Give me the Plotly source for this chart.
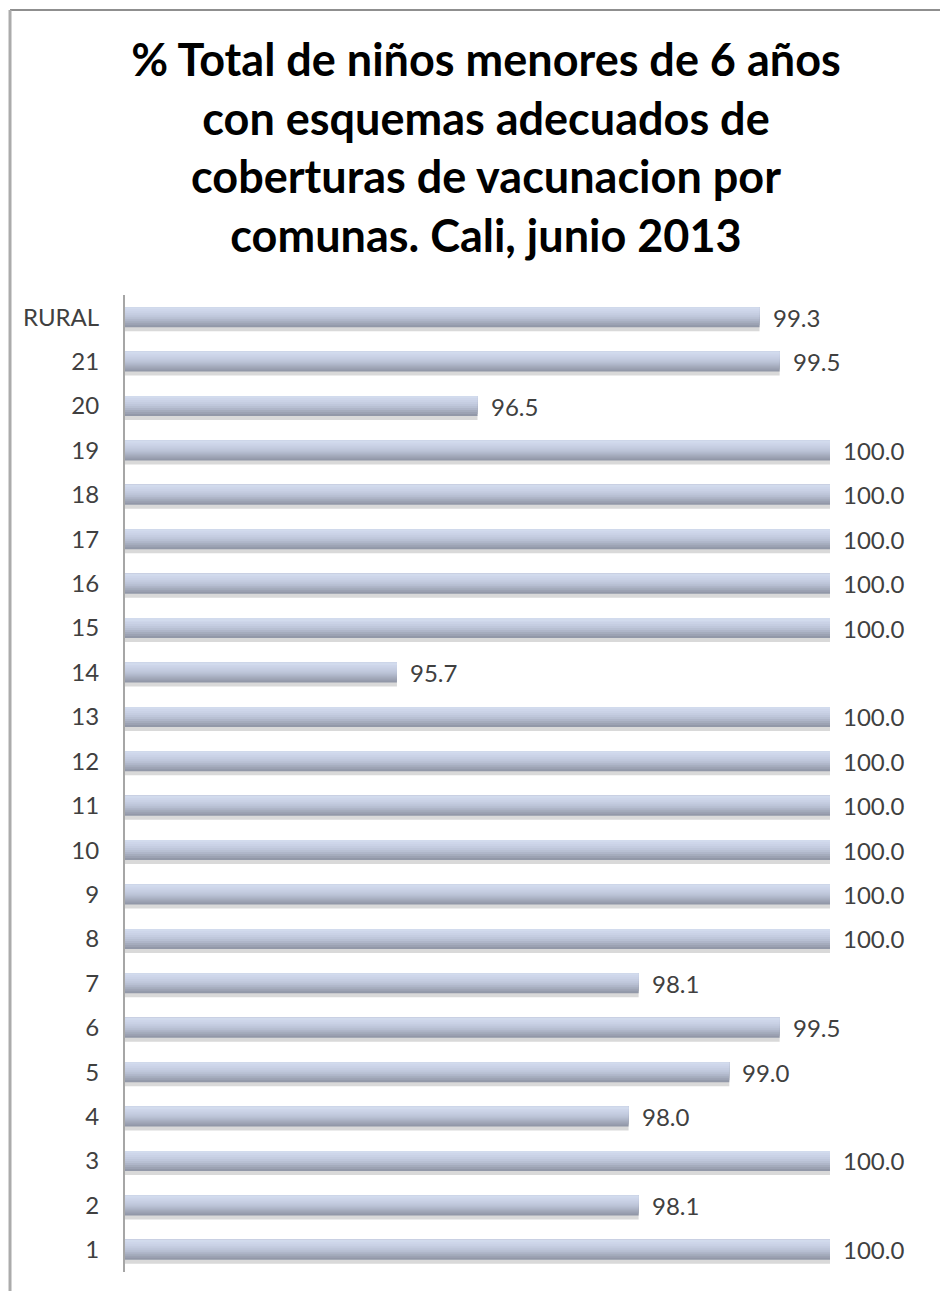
import plotly.graph_objects as go

# Data (bottom to top)
comunas = ["1", "2", "3", "4", "5", "6", "7", "8", "9", "10", "11", "12",
           "13", "14", "15", "16", "17", "18", "19", "20", "21", "RURAL"]
coberturas = [100.0, 98.1, 100.0, 98.0, 99.0, 99.5, 98.1, 100.0, 100.0, 100.0, 100.0, 100.0,
              100.0, 95.7, 100.0, 100.0, 100.0, 100.0, 100.0, 96.5, 99.5, 99.3]
etiquetas = [f"{v:.1f}" for v in coberturas]

titulo = ("% Total de niños menores de 6 años<br>con esquemas adecuados de<br>"
          "coberturas de vacunacion por<br>comunas. Cali, junio 2013")

fig = go.Figure()

BAR_W = 0.45
# soft shadow under each bar
fig.add_trace(go.Bar(
    x=coberturas, y=comunas, orientation="h",
    width=BAR_W, offset=-BAR_W / 2 - 0.09,
    marker=dict(color="rgba(120,120,120,0.28)", line=dict(width=0)),
    hoverinfo="skip", showlegend=False,
))

# vertical gradient (top light -> bottom dark): layered bars, darkest drawn first, full height
stripe_colors = ["#d2dbed", "#ced6ea", "#cad2e6", "#c5cde1", "#bfc7db",
                 "#b8c0d3", "#afb6c9", "#a5acbd", "#9ca2b3", "#9298a8"]
n = len(stripe_colors)
sw = BAR_W / n
for i in range(n - 1, -1, -1):
    h = (i + 1) * sw
    fig.add_trace(go.Bar(
        x=coberturas, y=comunas, orientation="h",
        width=h, offset=BAR_W / 2 - h,
        marker=dict(color=stripe_colors[i], line=dict(width=0)),
        hoverinfo="skip", showlegend=False,
    ))

# value labels (y given as category index on the category axis)
for idx, (v, lab) in enumerate(zip(coberturas, etiquetas)):
    fig.add_annotation(
        x=v, y=idx, text=lab, showarrow=False,
        xanchor="left", yanchor="middle", xshift=11,
        font=dict(family="Lato, Calibri, sans-serif", size=24, color="#404040"),
    )

# outer frame (top and left edges visible)
fig.add_shape(type="line", xref="paper", yref="paper",
              x0=-0.1631, x1=1.3, y0=1.2917, y1=1.2917,
              line=dict(color="#8f8f8f", width=2))
fig.add_shape(type="line", xref="paper", yref="paper",
              x0=-0.1631, x1=-0.1631, y0=1.2917, y1=-0.05,
              line=dict(color="#ababab", width=3))

fig.update_layout(
    width=948, height=1291,
    margin=dict(l=117, r=126, t=287, b=27),
    paper_bgcolor="white", plot_bgcolor="white",
    barmode="overlay",
    title=dict(
        text=titulo,
        x=0.5042, xanchor="center",
        y=1 - 68 / 1291, yref="container", yanchor="middle",
        font=dict(family="Lato, Calibri, sans-serif", size=45, color="#000000", weight="bold"),
    ),
    xaxis=dict(range=[93, 100], showgrid=False, zeroline=False,
               showticklabels=False, showline=False, ticks=""),
    yaxis=dict(type="category", categoryorder="array", categoryarray=comunas,
               showgrid=False, zeroline=False, showline=True,
               linecolor="#a6a6a6", linewidth=2, ticks="",
               ticklabelstandoff=19,
               tickfont=dict(family="Lato, Calibri, sans-serif", size=24, color="#404040")),
)

fig.write_html("out.html")
